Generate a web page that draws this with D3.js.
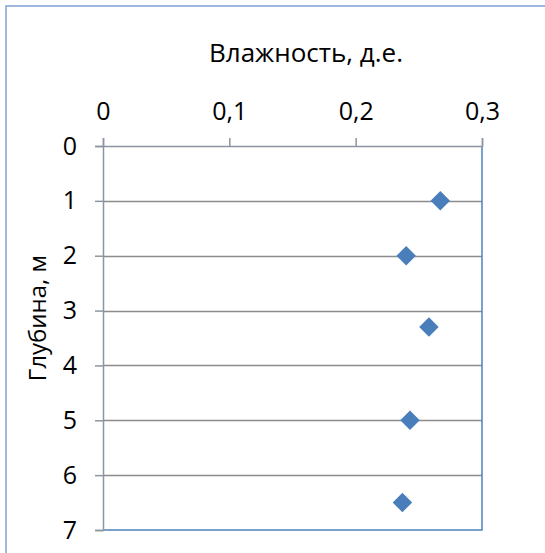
<!DOCTYPE html>
<html>
<head>
<meta charset="utf-8">
<script src="https://cdn.jsdelivr.net/npm/d3@7"></script>
<style>
  html, body { margin: 0; padding: 0; background: #fff; }
  svg { display: block; }
  text { font-family: "Open Sans", sans-serif; fill: #000; }
</style>
</head>
<body>
<svg id="chart" width="545" height="553"></svg>
<script>
// Moisture (fraction) measured at depth (m)
const moisture = [0.267, 0.240, 0.258, 0.243, 0.237];
const depth = [1.0, 2.0, 3.3, 5.0, 6.5];
const xTicks = [0, 0.1, 0.2, 0.3];
const yTicks = [0, 1, 2, 3, 4, 5, 6, 7];
const xTitle = "Влажность, д.е.";
const yTitle = "Глубина, м";

const W = 545, H = 553;
const plot = { left: 103, top: 146, right: 482, bottom: 530 };
const font = "'Open Sans', sans-serif";

const svg = d3.select("#chart");

// chart frame
svg.append("rect")
  .attr("x", 6).attr("y", 6)
  .attr("width", W).attr("height", H)
  .attr("fill", "#fff")
  .attr("stroke", "#7fa3d3").attr("stroke-width", 1.5);

const x = d3.scaleLinear().domain([0, 0.3]).range([plot.left, plot.right]);
const y = d3.scaleLinear().domain([0, 7]).range([plot.top, plot.bottom]);

const fmt = d => String(d).replace(".", ",");

// horizontal gridlines
svg.append("g")
  .selectAll("line")
  .data(yTicks.filter(t => t > 0 && t < 7))
  .join("line")
  .attr("x1", plot.left).attr("x2", plot.right)
  .attr("y1", d => Math.round(y(d)) + 0.5).attr("y2", d => Math.round(y(d)) + 0.5)
  .attr("stroke", "#8c8c8c").attr("stroke-width", 1.5);

// plot-area border (right and bottom)
svg.append("path")
  .attr("d", `M${plot.right},${plot.top}V${plot.bottom}H${plot.left}`)
  .attr("fill", "none")
  .attr("stroke", "#4f81bd").attr("stroke-width", 1.5);

// top value axis
const xAxis = d3.axisTop(x).tickValues(xTicks).tickSize(8).tickPadding(18).tickFormat(fmt);
const gx = svg.append("g").attr("transform", `translate(0,${plot.top})`).call(xAxis);
gx.select(".domain").attr("stroke", "#8c96a0").attr("stroke-width", 1.5);
gx.selectAll(".tick line").attr("stroke", "#8c96a0").attr("stroke-width", 1.5);
gx.selectAll(".tick text").attr("font-size", 25).attr("font-family", font).attr("fill", "#000");

// left depth axis
const yAxis = d3.axisLeft(y).tickValues(yTicks).tickSize(8).tickPadding(18).tickFormat(fmt);
const gy = svg.append("g").attr("transform", `translate(${plot.left},0)`).call(yAxis);
gy.select(".domain").attr("stroke", "#8c96a0").attr("stroke-width", 1.5);
gy.selectAll(".tick line").attr("stroke", "#8c96a0").attr("stroke-width", 1.5);
gy.selectAll(".tick text").attr("font-size", 25).attr("font-family", font).attr("fill", "#000");

// axis titles
svg.append("text")
  .attr("x", 306).attr("y", 62)
  .attr("text-anchor", "middle")
  .attr("font-size", 26)
  .text(xTitle);

svg.append("text")
  .attr("transform", "translate(46,318) rotate(-90)")
  .attr("text-anchor", "middle")
  .attr("font-size", 24)
  .text(yTitle);

// data points as diamonds
const diamond = d3.symbol().type(d3.symbolSquare).size(190);
svg.append("g")
  .selectAll("path")
  .data(depth.map((d, i) => ({ d, m: moisture[i] })))
  .join("path")
  .attr("d", diamond)
  .attr("transform", p => `translate(${x(p.m)},${y(p.d)}) rotate(45)`)
  .attr("fill", "#4a7ebb");
</script>
</body>
</html>
